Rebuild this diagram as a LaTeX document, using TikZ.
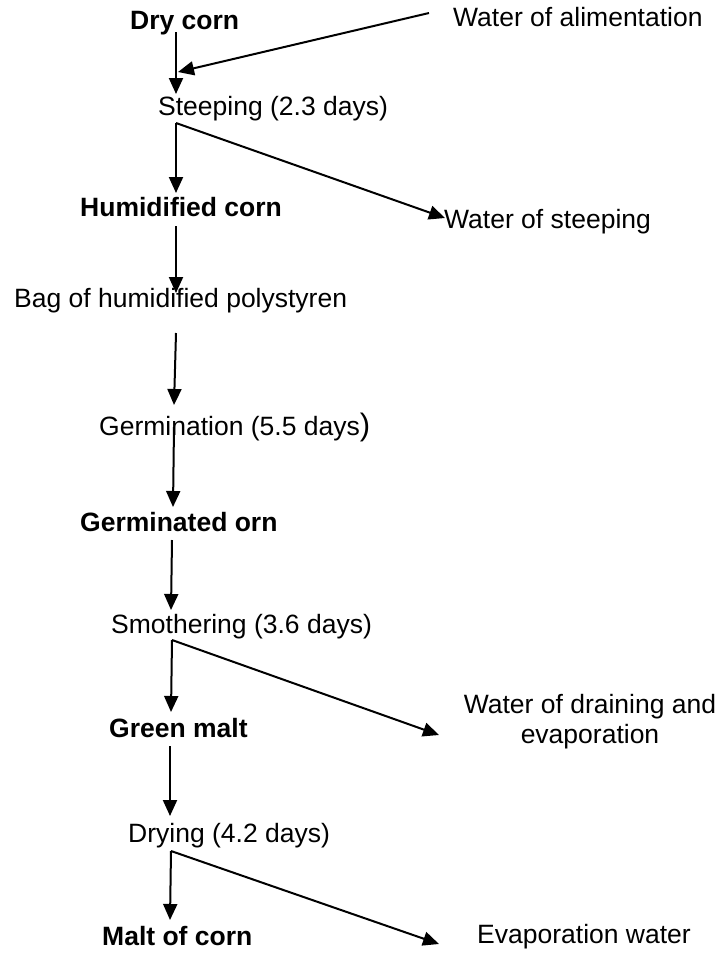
\documentclass[tikz,border=0pt]{standalone}
\usepackage{fontspec}
\setmainfont{Liberation Sans}
\usetikzlibrary{arrows.meta}
\begin{document}
\begin{tikzpicture}[x=1pt,y=-1pt,
  lbl/.style={inner sep=0pt,anchor=base west,font=\fontsize{26.5}{30}\selectfont},
  blbl/.style={lbl,font=\fontsize{26.5}{30}\selectfont\bfseries},
  arr/.style={line width=2pt,-{Triangle[length=16pt,width=14pt]}},
  ln/.style={line width=2pt}]
\useasboundingbox (0,0) rectangle (718,954);
% texts
\node[blbl] (dry) at (130,29) {Dry corn};
\node[lbl] (walim) at (453,26) {Water of alimentation};
\node[lbl] (steep) at (158,115) {Steeping (2.3 days)};
\node[blbl] (humid) at (80,216) {Humidified corn};
\node[lbl] (wsteep) at (444,228) {Water of steeping};
\node[lbl] (bag) at (14,307) {Bag of humidified polystyren};
\node[lbl] (germ) at (99,435) {Germination (5.5 days{\fontsize{31}{30}\selectfont)}};
\node[blbl] (germd) at (80,531) {Germinated orn};
\node[lbl] (smoth) at (111,633) {Smothering (3.6 days)};
\node[blbl] (green) at (109,737) {Green malt};
\node[lbl,anchor=base,align=center] (wdrain) at (590,743) {Water of draining and\\evaporation};
\node[lbl] (dryg) at (128,842) {Drying (4.2 days)};
\node[blbl] (malt) at (102,945) {Malt of corn};
\node[lbl] (evap) at (477,943) {Evaporation water};
% connector points
\coordinate (wa0) at (429,13);
\coordinate (wa1) at (178,72);
\coordinate (d0) at (176,32);
\coordinate (d1) at (176,94);
\coordinate (s0) at (176,123);
\coordinate (s1) at (176,193);
\coordinate (s2) at (445,218);
\coordinate (h0) at (176,226);
\coordinate (h1) at (176,293);
\coordinate (b0) at (176,333);
\coordinate (b1) at (174,405);
\coordinate (g0) at (174,427);
\coordinate (g1) at (173,507);
\coordinate (gd0) at (172,540);
\coordinate (gd1) at (171,610);
\coordinate (m0) at (172,640);
\coordinate (m1) at (171,712);
\coordinate (m2) at (439,735);
\coordinate (gr0) at (170,746);
\coordinate (gr1) at (170,816);
\coordinate (dr0) at (171,851);
\coordinate (dr1) at (170,920);
\coordinate (dr2) at (439,944);
% connectors
\draw[arr] (wa0) -- (wa1);
\draw[arr] (d0) -- (d1);
\draw[arr] (s0) -- (s1);
\draw[arr] (s0) -- (s2);
\draw[arr] (h0) -- (h1);
\draw[arr] (b0) -- (b1);
\draw[arr] (g0) -- (g1);
\draw[arr] (gd0) -- (gd1);
\draw[arr] (m0) -- (m1);
\draw[arr] (m0) -- (m2);
\draw[arr] (gr0) -- (gr1);
\draw[arr] (dr0) -- (dr1);
\draw[arr] (dr0) -- (dr2);
\end{tikzpicture}
\end{document}
